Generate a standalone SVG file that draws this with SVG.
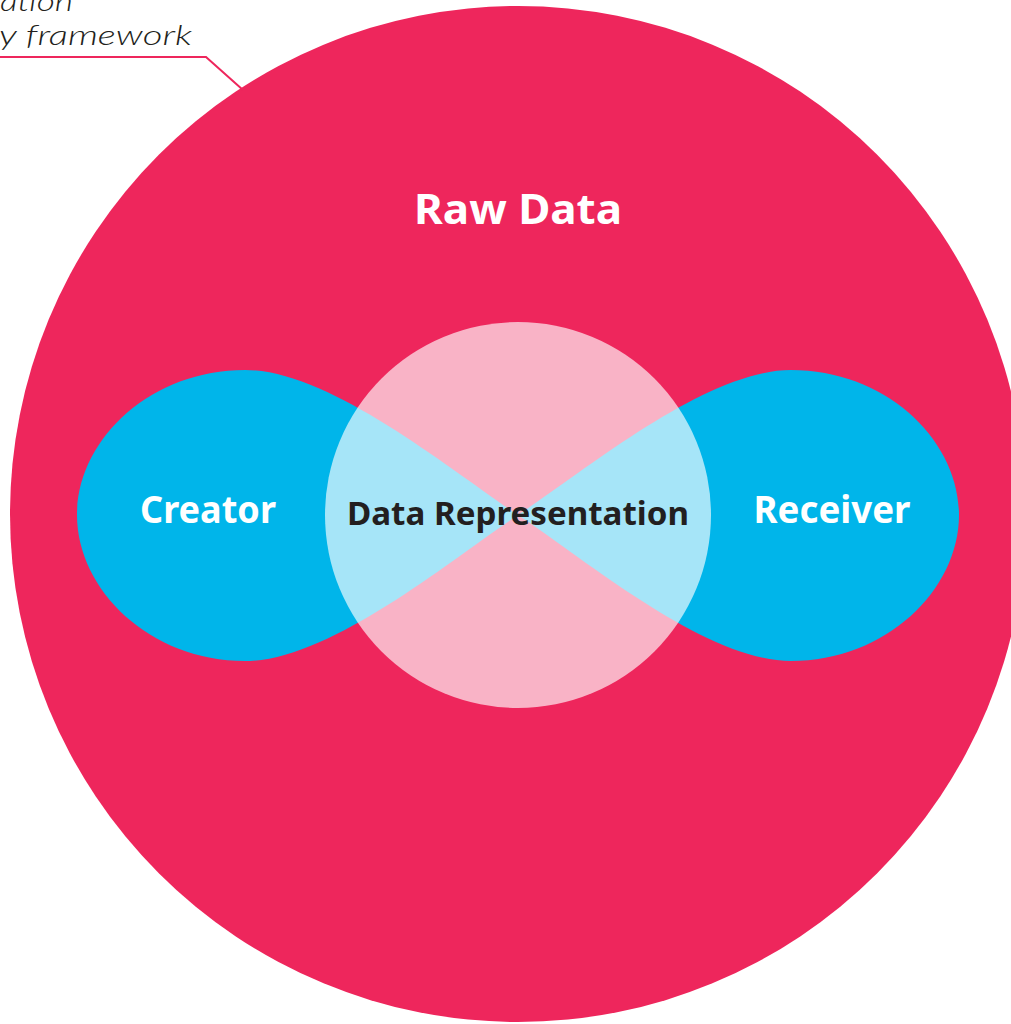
<svg xmlns="http://www.w3.org/2000/svg" width="1011" height="1024" viewBox="0 0 1011 1024">
<style>
.lbl{font-family:"Noto Sans","Liberation Sans",sans-serif;font-weight:bold;text-anchor:middle}
.white{fill:#FFFFFF}
.dark{fill:#231F20}
.cap{font-family:"Lato","Noto Sans","Liberation Sans",sans-serif;font-style:italic;font-weight:300;fill:#231F20;text-anchor:end;font-size:28px}
.lobe{fill:#00B5EA}
</style>
<rect width="1011" height="1024" fill="#FFFFFF"/>
<g id="raw-data">
<circle cx="518" cy="514" r="508" fill="#EE265C"/>
<text class="lbl white" x="518" y="224" font-size="42" textLength="208" lengthAdjust="spacingAndGlyphs">Raw Data</text>
</g>
<g id="creator">
<path class="lobe" d="M518 515 C450 470 330 370 245 370 C150 370 77 440 77 515 C77 590 150 661 245 661 C330 661 450 560 518 515 Z"/>
</g>
<g id="receiver">
<path class="lobe" d="M518 515 C586 470 706 370 791 370 C886 370 959 440 959 515 C959 590 886 661 791 661 C706 661 586 560 518 515 Z"/>
</g>
<g id="data-representation">
<circle cx="518" cy="515" r="193" fill="#FFFFFF" fill-opacity="0.65"/>
<text class="lbl dark" x="518" y="525" font-size="33" textLength="342" lengthAdjust="spacingAndGlyphs">Data Representation</text>
</g>
<g id="creator-label">
<text class="lbl white" x="208" y="523" font-size="37" textLength="136" lengthAdjust="spacingAndGlyphs">Creator</text>
</g>
<g id="receiver-label">
<text class="lbl white" x="832" y="523" font-size="37" textLength="157" lengthAdjust="spacingAndGlyphs">Receiver</text>
</g>
<g id="caption">
<text class="cap" x="73" y="11" textLength="73" lengthAdjust="spacingAndGlyphs">ation</text>
<text class="cap" x="192" y="45" textLength="193" lengthAdjust="spacingAndGlyphs">y framework</text>
</g>
<g id="connectors">
<polyline points="0,57 206,57 243,90" fill="none" stroke="#EE265C" stroke-width="2"/>
</g>
</svg>
